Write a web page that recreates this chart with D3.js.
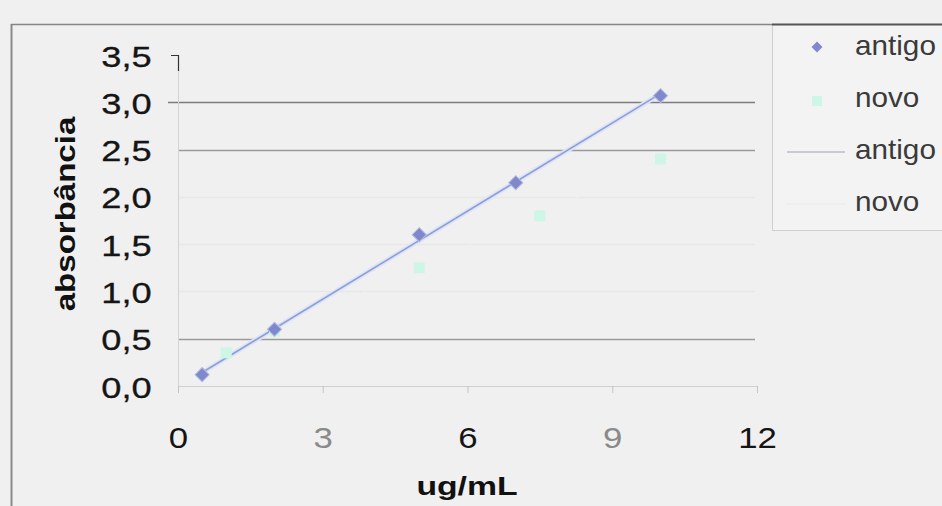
<!DOCTYPE html>
<html>
<head>
<meta charset="utf-8">
<script src="https://d3js.org/d3.v7.min.js"></script>
<style>
    body { margin: 0; background: #f0f0f0; }
    svg text { font-family: "Liberation Sans", Arial, sans-serif; }
</style>
</head>
<body>
<svg id="chart"></svg>
<script>
    // dados
    const antigoX = [0.5, 2, 5, 7, 10];
    const antigoY = [0.12, 0.6, 1.6, 2.15, 3.07];
    const novoX = [1, 2, 5, 7.5, 10];
    const novoY = [0.35, 0.58, 1.25, 1.8, 2.4];
    const yTicks = [0, 0.5, 1, 1.5, 2, 2.5, 3, 3.5];
    const xTicks = [0, 3, 6, 9, 12];
    const legendLabels = ["antigo", "novo", "antigo", "novo"];
    const xTitle = "ug/mL";
    const yTitle = "absorbância";

    const width = 942, height = 506;
    const corAntigo = "#8088cc", corNovo = "#cdf6e6", corLinha = "#8d9fd9";

    const svg = d3.select("#chart")
        .attr("width", width)
        .attr("height", height);

    svg.append("rect").attr("width", width).attr("height", height).attr("fill", "#f0f0f0");

    const x = d3.scaleLinear().domain([0, 12]).range([178, 757]);
    const y = d3.scaleLinear().domain([0, 3.5]).range([386, 55]);

    const ptBR = d3.formatLocale({ decimal: ",", thousands: ".", grouping: [3], currency: ["R$", ""] });
    const fmt = ptBR.format(".1f");

    // borda externa
    svg.append("line").attr("x1", 11.5).attr("x2", 11.5).attr("y1", 24).attr("y2", height)
        .attr("stroke", "#8a8a8a").attr("stroke-width", 2);
    svg.append("line").attr("x1", 11).attr("x2", 772).attr("y1", 24.5).attr("y2", 24.5)
        .attr("stroke", "#858585").attr("stroke-width", 1.5);

    // linhas de grade
    const gridColor = function (v) {
        if (v === 3) return "#7c7c7c";
        if (v === 2.5 || v === 0.5) return "#9a9a9a";
        return "#e7e7e7";
    };
    svg.append("g").selectAll("line")
        .data(yTicks.filter(v => v > 0 && v < 3.5))
        .enter().append("line")
        .attr("x1", d => d === 3 ? 168 : x(0))
        .attr("x2", 755)
        .attr("y1", d => Math.round(y(d)) + 0.5)
        .attr("y2", d => Math.round(y(d)) + 0.5)
        .attr("stroke", gridColor)
        .attr("stroke-width", 1.3);

    // eixo Y
    svg.append("line").attr("x1", x(0) + 0.5).attr("x2", x(0) + 0.5).attr("y1", y(3.5)).attr("y2", y(0))
        .attr("stroke", "#d2d2d2");
    svg.append("path").attr("d", "M171," + (y(3.5) + 0.5) + "H178.5V" + (y(3.5) + 16))
        .attr("fill", "none").attr("stroke", "#333").attr("stroke-width", 1.2);

    const yAxis = svg.append("g")
        .attr("transform", "translate(" + x(0) + ",0)")
        .call(d3.axisLeft(y).tickValues(yTicks).tickSize(0).tickPadding(21).tickFormat(fmt));
    yAxis.select(".domain").remove();
    yAxis.selectAll("text")
        .attr("font-size", 29)
        .attr("font-family", "Liberation Sans, Arial, sans-serif")
        .attr("fill", "#151515")
        .attr("stroke", "#151515")
        .attr("stroke-width", 0.3)
        .attr("dy", "0.38em")
        .attr("transform", "scale(1.25,1)");

    // eixo X
    const xAxis = svg.append("g")
        .attr("transform", "translate(0," + y(0) + ")")
        .call(d3.axisBottom(x).tickValues(xTicks).tickSize(7).tickPadding(34).tickFormat(d3.format("d")));
    xAxis.select(".domain").attr("stroke", "#cfcfcf");
    xAxis.selectAll(".tick line").attr("stroke", "#c4c4c4");
    xAxis.selectAll("text")
        .attr("font-size", 29)
        .attr("font-family", "Liberation Sans, Arial, sans-serif")
        .attr("fill", (d, i) => i % 2 ? "#8a8a8a" : "#151515")
        .attr("transform", "scale(1.2,1)");

    // títulos dos eixos
    svg.append("text")
        .attr("transform", "translate(467,495) scale(1.35,1)")
        .attr("text-anchor", "middle")
        .attr("font-size", 25)
        .attr("font-weight", "bold")
        .attr("fill", "#111")
        .text(xTitle);
    svg.append("text")
        .attr("transform", "translate(75,214) rotate(-90) scale(1.18,1)")
        .attr("text-anchor", "middle")
        .attr("font-size", 28)
        .attr("font-weight", "bold")
        .attr("fill", "#111")
        .text(yTitle);

    // linha de tendência (mínimos quadrados)
    const trend = function (xs, ys) {
        const mx = d3.mean(xs), my = d3.mean(ys);
        const sxy = d3.sum(xs, (v, i) => (v - mx) * (ys[i] - my));
        const sxx = d3.sum(xs, v => (v - mx) * (v - mx));
        const b = sxy / sxx, a = my - b * mx;
        const ext = d3.extent(xs);
        return ext.map(v => [v, a + b * v]);
    };
    const line = d3.line().x(d => x(d[0])).y(d => y(d[1]));
    svg.append("path").datum(trend(novoX, novoY)).attr("d", line)
        .attr("fill", "none").attr("stroke", "#eeeff0").attr("stroke-width", 1);
    svg.append("path").datum(trend(antigoX, antigoY)).attr("d", line)
        .attr("fill", "none").attr("stroke", "#dfe5f6").attr("stroke-width", 5);
    svg.append("path").datum(trend(antigoX, antigoY)).attr("d", line)
        .attr("fill", "none").attr("stroke", corLinha).attr("stroke-width", 1.6);

    // pontos
    const novoPts = novoX.map((v, i) => [v, novoY[i]]);
    const antigoPts = antigoX.map((v, i) => [v, antigoY[i]]);
    svg.append("g").selectAll("path")
        .data(novoPts).enter().append("path")
        .attr("d", d3.symbol().type(d3.symbolSquare).size(120))
        .attr("transform", d => "translate(" + x(d[0]) + "," + y(d[1]) + ")")
        .attr("fill", corNovo);
    svg.append("g").selectAll("path")
        .data(antigoPts).enter().append("path")
        .attr("d", d3.symbol().type(d3.symbolSquare).size(100))
        .attr("transform", d => "translate(" + x(d[0]) + "," + y(d[1]) + ") rotate(45)")
        .attr("fill", corAntigo)
        .attr("stroke", "#b4b9e2")
        .attr("stroke-width", 1);

    // legenda
    const lg = svg.append("g");
    lg.append("rect").attr("x", 772.5).attr("y", 24.5).attr("width", 180).attr("height", 206)
        .attr("fill", "#f3f3f3").attr("stroke", "#d0d0d0");
    lg.append("line").attr("x1", 772).attr("x2", width).attr("y1", 24.5).attr("y2", 24.5)
        .attr("stroke", "#555").attr("stroke-width", 2);
    const rows = lg.selectAll("g.item").data(legendLabels).enter().append("g")
        .attr("class", "item")
        .attr("transform", (d, i) => "translate(0," + (47 + i * 52) + ")");
    rows.append("text")
        .attr("transform", "translate(855,8) scale(1.1,1)")
        .attr("font-size", 27)
        .attr("fill", "#3a3a3a")
        .text(d => d);
    rows.filter((d, i) => i === 0).append("path")
        .attr("d", d3.symbol().type(d3.symbolSquare).size(60))
        .attr("transform", "translate(817,0) rotate(45)")
        .attr("fill", corAntigo);
    rows.filter((d, i) => i === 1).append("path")
        .attr("d", d3.symbol().type(d3.symbolSquare).size(100))
        .attr("transform", "translate(817,2)")
        .attr("fill", corNovo);
    rows.filter((d, i) => i === 2).append("line")
        .attr("x1", 787).attr("x2", 845).attr("y1", 1).attr("y2", 1)
        .attr("stroke", "#b8bcc8").attr("stroke-width", 1.5);
    rows.filter((d, i) => i === 3).append("line")
        .attr("x1", 787).attr("x2", 845).attr("y1", 1).attr("y2", 1)
        .attr("stroke", "#ececec").attr("stroke-width", 1.5);
</script>
</body>
</html>
